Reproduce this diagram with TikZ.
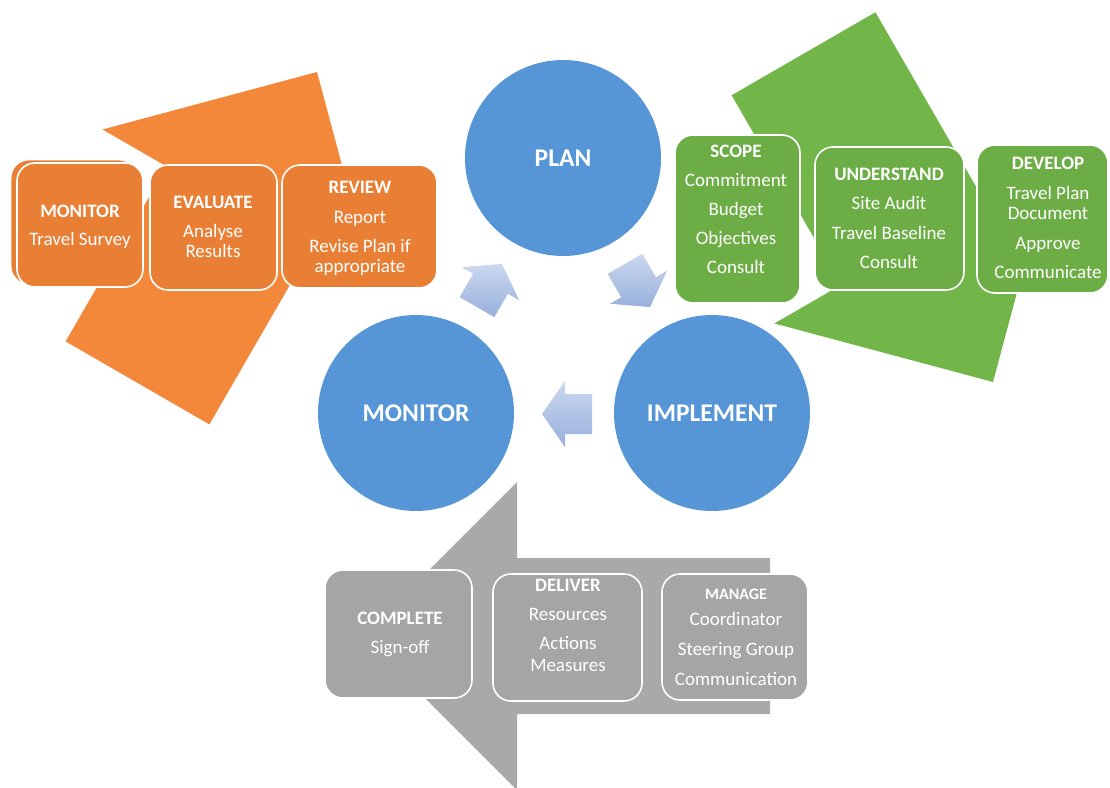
\documentclass[tikz,border=0pt]{standalone}
\usepackage{fontspec}
\setmainfont{Carlito}
\usetikzlibrary{calc}

\definecolor{orangeArrow}{HTML}{F3883B}
\definecolor{orangeBox}{HTML}{E97F35}
\definecolor{greenArrow}{HTML}{72B64A}
\definecolor{greenBox}{HTML}{6CAE45}
\definecolor{greyArrow}{HTML}{A9A9A9}
\definecolor{greyBox}{HTML}{A5A5A5}
\definecolor{cycleBlue}{HTML}{5695D6}
\definecolor{flowLight}{HTML}{CBD8EF}
\definecolor{flowDark}{HTML}{98B0DC}

\tikzset{
  stagebox/.style={draw=white, line width=1.6pt, rounded corners=18pt, inner sep=0pt},
  boxtext/.style={text=white, align=center, inner sep=0pt,
    font=\fontsize{19}{20}\selectfont},
  cyclenode/.style={circle, fill=cycleBlue, minimum size=196pt, inner sep=0pt,
    text=white, font=\fontsize{25.5}{28}\selectfont\bfseries},
  flowarrow/.style={top color=flowLight, bottom color=flowDark, draw=none},
}

\begin{document}
\begin{tikzpicture}[x=1pt,y=-1pt]
\useasboundingbox[fill=white] (0,0) rectangle (1110,787);

% ---- large block arrows behind the stage boxes ----
% Check: monitor / evaluate / review
\begin{scope}[shift={(317,72)}, rotate=60]
  \fill[orangeArrow] (0,0) -- (-157,157) -- (-157,83) -- (-359,83)
    -- (-359,-83) -- (-157,-83) -- (-157,-157) -- cycle;
\end{scope}
% Plan: scope / understand / develop
\begin{scope}[shift={(993,382)}, rotate=-60]
  \fill[greenArrow] (0,0) -- (-160,160) -- (-160,83) -- (-379,83)
    -- (-379,-83) -- (-160,-83) -- (-160,-160) -- cycle;
\end{scope}
% Do: manage / deliver / complete
\fill[greyArrow] (363,636) -- (517,482) -- (517,558) -- (770,558)
  -- (770,714) -- (517,714) -- (517,790) -- cycle;

% ---- orange stage boxes ----
\node[stagebox, fill=orangeBox, line width=0.8pt, minimum width=126pt, minimum height=124pt] (monback) at (74,222) {};
\node[stagebox, fill=orangeBox, minimum width=126pt, minimum height=124pt] (mon) at (80,225) {};
\node[boxtext] (montxt) at (80,227) {\textbf{MONITOR}\\[8pt]Travel Survey};

\node[stagebox, fill=orangeBox, minimum width=127pt, minimum height=125pt] (eva) at (213.5,227.5) {};
\node[boxtext] (evatxt) at (213,227) {\textbf{EVALUATE}\\[9pt]Analyse\\Results};

\node[stagebox, fill=orangeBox, minimum width=155pt, minimum height=123pt] (rev) at (359.5,226.5) {};
\node[boxtext] (revtxt) at (360,228) {\textbf{REVIEW}\\[10pt]Report\\[9pt]Revise Plan if\\appropriate};

% ---- green stage boxes ----
\node[stagebox, fill=greenBox, minimum width=125pt, minimum height=168pt] (sco) at (737.5,219) {};
\node[boxtext] (scotxt) at (736,209) {\textbf{SCOPE}\\[9pt]Commitment\\[9pt]Budget\\[9pt]Objectives\\[9pt]Consult};

\node[stagebox, fill=greenBox, minimum width=149pt, minimum height=143pt] (und) at (889.5,218.5) {};
\node[boxtext] (undtxt) at (889,218) {\textbf{UNDERSTAND}\\[9pt]Site Audit\\[10pt]Travel Baseline\\[9pt]Consult};

\node[stagebox, fill=greenBox, minimum width=131pt, minimum height=148pt] (dev) at (1042.5,219) {};
\node[boxtext] (devtxt) at (1048,218) {\textbf{DEVELOP}\\[10pt]Travel Plan\\Document\\[10pt]Approve\\[9pt]Communicate};

% ---- grey stage boxes ----
\node[stagebox, fill=greyBox, minimum width=147pt, minimum height=128pt] (com) at (398.5,634) {};
\node[boxtext] (comtxt) at (400,634.5) {\textbf{COMPLETE}\\[9pt]Sign-off};

\node[stagebox, fill=greyBox, minimum width=149pt, minimum height=127pt] (del) at (567.5,637.5) {};
\node[boxtext] (deltxt) at (568,625) {\textbf{DELIVER}\\[9pt]Resources\\[9pt]Actions\\[2pt]Measures};

\node[stagebox, fill=greyBox, minimum width=146pt, minimum height=126pt] (man) at (735,637) {};
\node[boxtext] (mantxt) at (736,637) {{\fontsize{16}{20}\selectfont\bfseries MANAGE}\\[6pt]Coordinator\\[10pt]Steering Group\\[10pt]Communication};

% ---- central cycle ----
\node[cyclenode] (plan) at (563,158) {PLAN};
\node[cyclenode] (monitor) at (416,413) {MONITOR};
\node[cyclenode] (implement) at (712,413) {IMPLEMENT};

% flow arrows between the cycle stages
\begin{scope}[shift={($(monitor)!0.5!(plan)$)}, rotate=60]
  \path[flowarrow] (25,0) -- (2,33) -- (2,20) -- (-25,20) -- (-25,-20) -- (2,-20) -- (2,-33) -- cycle;
\end{scope}
\begin{scope}[shift={($(plan)!0.5!(implement)$)}, rotate=-60]
  \path[flowarrow] (25,0) -- (2,33) -- (2,20) -- (-25,20) -- (-25,-20) -- (2,-20) -- (2,-33) -- cycle;
\end{scope}
\begin{scope}[shift={($(implement)!0.5!(monitor)+(3,1)$)}, rotate=180]
  \path[flowarrow] (25,0) -- (2,33) -- (2,20) -- (-25,20) -- (-25,-20) -- (2,-20) -- (2,-33) -- cycle;
\end{scope}
\end{tikzpicture}
\end{document}
